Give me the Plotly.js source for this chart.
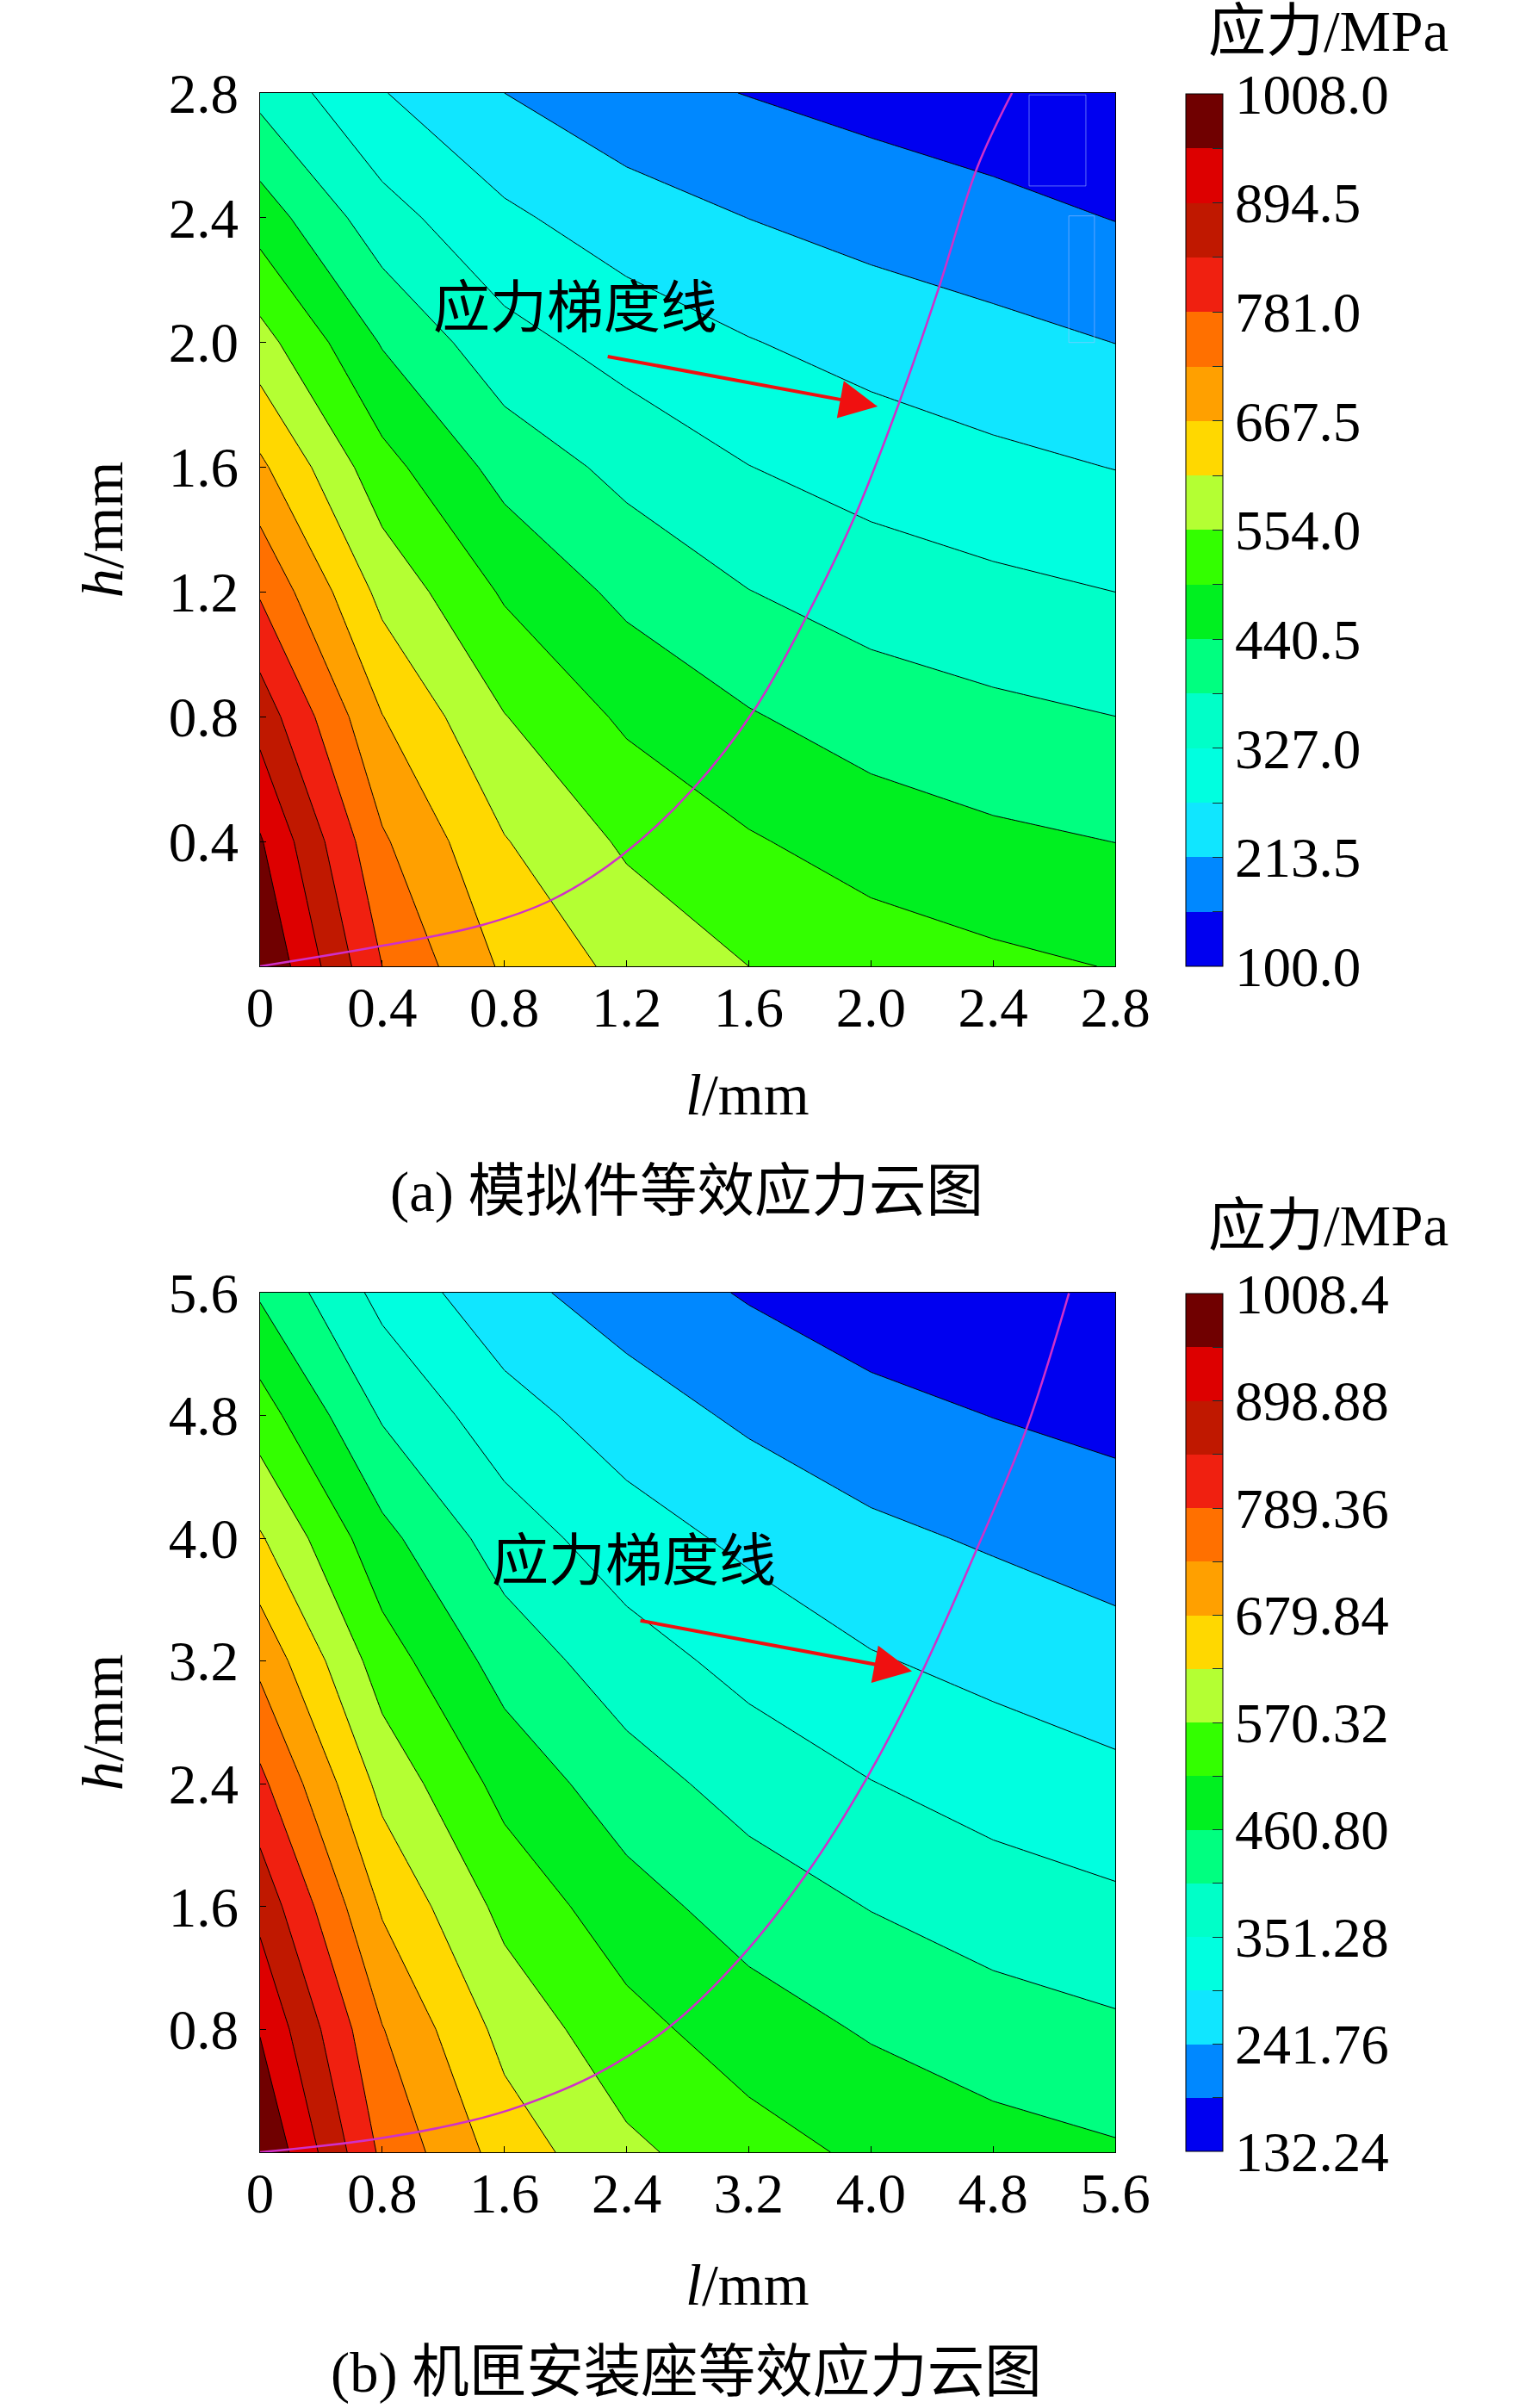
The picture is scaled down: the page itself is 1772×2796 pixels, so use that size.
<!DOCTYPE html>
<html>
<head>
<meta charset="utf-8">
<script src="https://cdn.plot.ly/plotly-3.0.1.min.js"></script>
<style>
html, body { margin: 0; padding: 0; background: #fff; }
</style>
</head>
<body>
<div id="plot" style="width:1772px;height:2796px"></div>
<script>
const lA = [0, 0.4, 0.8, 1.2, 1.6, 2.0, 2.4, 2.8]
const hA = [0, 0.4, 0.8, 1.2, 1.6, 2.0, 2.4, 2.8]
const zA = [
    [1008, 781, 658, 595, 554, 528, 510, 495],
    [957, 732, 614, 545, 503, 472, 452, 440],
    [872, 669, 556, 487, 445, 414, 397, 384],
    [775, 594, 490, 426, 385, 358, 341, 327],
    [679, 517, 420, 367, 328, 303, 284, 269],
    [576, 436, 346, 304, 273, 249, 231, 213],
    [471, 349, 281, 240, 213, 192, 175, 155],
    [367, 273, 213.5, 175, 155, 137, 120, 100]
]
const lB = [0, 0.8, 1.6, 2.4, 3.2, 4.0, 4.8, 5.6]
const hB = [0, 0.8, 1.6, 2.4, 3.2, 4.0, 4.8, 5.6]
const zB = [
    [1008.4, 778, 656, 582, 539, 504, 482, 467],
    [950, 737, 607, 534, 487, 455, 431, 415],
    [882, 673, 554, 483, 436, 404, 379, 362],
    [803, 608, 497, 430, 384, 353, 328, 310],
    [721, 542, 438, 375, 334, 301, 281, 262],
    [631, 477, 379, 322, 284, 254, 235, 217],
    [541, 400, 319, 268, 232, 205, 186, 171],
    [454, 334, 258, 216, 182, 154, 143, 132.24]
]

// gradient line
const curveLA = [0, 0.406, 0.723, 0.957, 1.181, 1.415, 1.620, 1.789, 1.948, 2.088, 2.219, 2.349, 2.462]
const curveHA = [0, 0.067, 0.131, 0.214, 0.353, 0.566, 0.825, 1.121, 1.444, 1.795, 2.165, 2.563, 2.8]
const curveLB = [0, 0.736, 1.372, 1.708, 2.194, 2.680, 3.147, 3.577, 3.970, 4.325, 4.680, 5.016, 5.297]
const curveHB = [0, 0.083, 0.203, 0.301, 0.504, 0.816, 1.267, 1.812, 2.432, 3.108, 3.898, 4.706, 5.597]

const barTextA = ['100.0', '213.5', '327.0', '440.5', '554.0', '667.5', '781.0', '894.5', '1008.0']
const barTextB = ['132.24', '241.76', '351.28', '460.80', '570.32', '679.84', '789.36', '898.88', '1008.4']

const bandColors = ['#0000f0', '#0088ff', '#10e6ff', '#00ffe0', '#00ffc8', '#00ff80', '#00f020', '#33ff00',
    '#b4ff33', '#ffd800', '#ffa000', '#ff7000', '#f02010', '#c01800', '#dd0000', '#700000']

const serif = '"Liberation Serif", "Noto Sans CJK SC", serif'
const W = 1772, H = 2796

// 17 levels: plotly samples the scale at (i + 1) / 17 for band i
var scale = [[0, bandColors[0]]]
bandColors.forEach(function (c, i) { scale.push([(i + 1) / 17, c]) })
scale.push([1, bandColors[15]])

// the colour bar wants hard steps over exactly zmin..zmax
var stepScale = []
bandColors.forEach(function (c, i) { stepScale.push([i / 16, c]); stepScale.push([(i + 1) / 16, c]) })

function contour(l, h, z, start, end, size, xa, ya)
{
    return {
        type: 'contour', x: l, y: h, z: z, xaxis: xa, yaxis: ya,
        autocontour: false, showscale: false,
        contours: { start: start, end: end, size: size, coloring: 'fill' },
        line: { color: '#000', width: 1, smoothing: 0 },
        colorscale: scale,
        hoverinfo: 'skip'
    }
}

// contour colour bars run half a band past both ends, so the bar hangs off a hidden marker
function colorBar(l, h, start, end, size, labels, xa, ya, top, bottom)
{
    var vals = [], text = []
    for (var i = 0; i <= 16; i++) {
        vals.push(start + i * size)
        text.push(i % 2 == 0 ? labels[i / 2] : '')
    }
    return {
        type: 'scatter', mode: 'markers', x: [l[0]], y: [h[0]], xaxis: xa, yaxis: ya, showlegend: false, hoverinfo: 'skip',
        marker: {
            size: 1, opacity: 0, color: [start], cmin: start, cmax: end, colorscale: stepScale, showscale: true,
            colorbar: {
                x: 1377 / W, xanchor: 'left', xpad: 0,
                y: 1 - top / H, yanchor: 'top', ypad: 0,
                len: (bottom - top) / H, lenmode: 'fraction',
                thickness: 43, thicknessmode: 'pixels',
                tickmode: 'array', tickvals: vals, ticktext: text,
                ticks: 'inside', ticklen: 12, tickcolor: '#103030', tickwidth: 1,
                tickfont: { family: serif, size: 65, color: '#000' },
                outlinecolor: '#000', outlinewidth: 1
            }
        }
    }
}

function curve(l, h, xa, ya)
{
    return { type: 'scatter', mode: 'lines', x: l, y: h, xaxis: xa, yaxis: ya, showlegend: false, hoverinfo: 'skip',
        line: { color: '#d030c8', width: 2.5, shape: 'spline' } }
}

function axis(domain, vals, text, anchor, standoff)
{
    return {
        domain: domain, anchor: anchor, range: [vals[0], vals[7]],
        tickmode: 'array', tickvals: vals, ticktext: text,
        tickfont: { family: serif, size: 65, color: '#000' },
        ticks: 'inside', ticklen: 7, tickcolor: '#000', tickangle: 0, ticklabelstandoff: standoff,
        showline: true, linecolor: '#000', linewidth: 1, mirror: true,
        showgrid: false, zeroline: false
    }
}

function text(str, px, py, size)
{
    return { text: str, xref: 'paper', yref: 'paper', x: px / W, y: 1 - py / H, xanchor: 'center', yanchor: 'middle',
        showarrow: false, font: { family: serif, size: size, color: '#000' } }
}

function arrow(xa, ya, x0, y0, x1, y1)
{
    return { xref: xa, yref: ya, axref: xa, ayref: ya, x: x1, y: y1, ax: x0, ay: y0, text: '', showarrow: true,
        arrowcolor: '#f01010', arrowwidth: 4, arrowhead: 2, arrowsize: 2.2 }
}

const tickA = lA.map(function (v) { return v.toFixed(1) })
const tickB = lB.map(function (v) { return v.toFixed(1) })
const xTickA = ['0'].concat(tickA.slice(1))
const xTickB = ['0'].concat(tickB.slice(1))
const yTickA = [''].concat(tickA.slice(1))
const yTickB = [''].concat(tickB.slice(1))

const xDomain = [302 / W, 1295 / W]
var yAxisA = axis([1 - 1122 / H, 1 - 108 / H], hA, yTickA, 'x', 11)
var yAxisB = axis([1 - 2499 / H, 1 - 1501 / H], hB, yTickB, 'x2', 11)
yAxisA.title = { text: '<i>h</i>/mm', font: { family: serif, size: 68, color: '#000' }, standoff: 30 }
yAxisB.title = { text: '<i>h</i>/mm', font: { family: serif, size: 68, color: '#000' }, standoff: 30 }

// faint scan marks in the top right corner of (a)
const ghost = 'rgba(170,195,255,0.55)'

const layout = {
    width: W, height: H,
    margin: { l: 0, r: 0, t: 0, b: 0 },
    paper_bgcolor: '#fff', plot_bgcolor: '#fff',
    showlegend: false,
    xaxis: axis(xDomain, lA, xTickA, 'y', -9),
    yaxis: yAxisA,
    xaxis2: axis(xDomain, lB, xTickB, 'y2', -9),
    yaxis2: yAxisB,
    shapes: [
        { type: 'rect', xref: 'x', yref: 'y', x0: 2.518, x1: 2.704, y0: 2.502, y1: 2.794, line: { color: ghost, width: 1 } },
        { type: 'rect', xref: 'x', yref: 'y', x0: 2.648, x1: 2.732, y0: 2.0, y1: 2.406, line: { color: ghost, width: 1 } }
    ],
    annotations: [
        text('应力/MPa', 1542, 36, 67),
        text('应力/MPa', 1542, 1423, 67),
        text('<i>l</i>/mm', 868, 1271, 68),
        text('<i>l</i>/mm', 868, 2653, 68),
        text('(a) 模拟件等效应力云图', 797, 1384, 66.5),
        text('(b) 机匣安装座等效应力云图', 797, 2755, 66.5),
        { xref: 'x', yref: 'y', x: 1.032, y: 2.11, text: '应力梯度线', showarrow: false, font: { family: serif, size: 66, color: '#000' } },
        { xref: 'x2', yref: 'y2', x: 2.45, y: 3.85, text: '应力梯度线', showarrow: false, font: { family: serif, size: 66, color: '#000' } },
        arrow('x', 'y', 1.134, 1.956, 2.022, 1.795),
        arrow('x2', 'y2', 2.482, 3.465, 4.269, 3.134)
    ]
}

const data = [
    contour(lA, hA, zA, 100, 1008, 56.75, 'x', 'y'),
    contour(lB, hB, zB, 132.24, 1008.41, 54.76, 'x2', 'y2'),
    curve(curveLA, curveHA, 'x', 'y'),
    curve(curveLB, curveHB, 'x2', 'y2'),
    colorBar(lA, hA, 100, 1008, 56.75, barTextA, 'x', 'y', 109, 1122),
    colorBar(lB, hB, 132.24, 1008.4, 54.76, barTextB, 'x2', 'y2', 1502, 2498)
]

Plotly.newPlot('plot', data, layout, { displayModeBar: false })
</script>
</body>
</html>
